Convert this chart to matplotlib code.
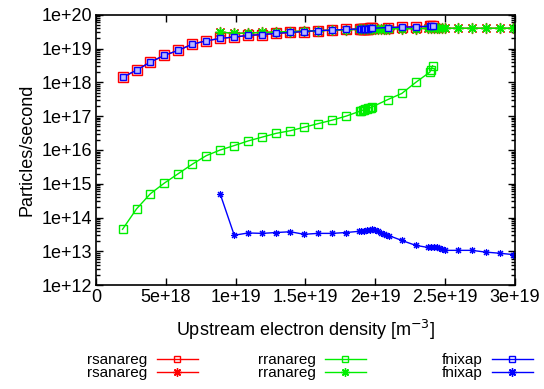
import matplotlib
matplotlib.use("Agg")
import matplotlib.pyplot as plt
from matplotlib.lines import Line2D
from matplotlib.ticker import FixedLocator, LogLocator, NullFormatter

plt.rcParams['font.family'] = ['Liberation Sans', 'DejaVu Sans']

# density scan points [m^-3] for the square-marker runs
xSquare = [1.9e18, 2.9e18, 3.9e18, 4.9e18, 5.9e18, 6.9e18, 7.9e18, 8.9e18, 9.9e18,
           10.9e18, 11.9e18, 12.9e18, 13.9e18, 14.9e18, 15.9e18, 16.9e18, 17.9e18,
           18.9e18, 19.0e18, 19.1e18, 19.2e18, 19.3e18, 19.4e18, 19.5e18, 19.6e18, 19.7e18, 19.8e18,
           20.9e18, 21.9e18, 22.9e18, 23.9e18, 24.0e18, 24.1e18]

rsanaregSq = [1.4e18, 2.3e18, 4.0e18, 6.3e18, 8.9e18, 1.35e19, 1.7e19, 2.0e19, 2.2e19,
              2.45e19, 2.6e19, 2.8e19, 3.0e19, 3.2e19, 3.4e19, 3.5e19, 3.7e19,
              3.8e19, 3.82e19, 3.84e19, 3.86e19, 3.88e19, 3.9e19, 3.92e19, 3.94e19, 3.96e19, 3.98e19,
              4.2e19, 4.3e19, 4.4e19, 4.6e19, 4.7e19, 4.8e19]

rranaregSq = [4.5e13, 1.8e14, 5.1e14, 1.05e15, 2.0e15, 3.8e15, 6.8e15, 1.0e16, 1.35e16,
              1.85e16, 2.4e16, 3.1e16, 3.7e16, 4.7e16, 6.0e16, 7.6e16, 1.0e17,
              1.4e17, 1.45e17, 1.5e17, 1.55e17, 1.6e17, 1.65e17, 1.7e17, 1.75e17, 1.8e17, 1.9e17,
              3.1e17, 4.7e17, 1.0e18, 2.0e18, 2.4e18, 3.1e18]

fnixapSq = [1.4e18, 2.3e18, 4.0e18, 6.3e18, 8.9e18, 1.35e19, 1.7e19, 2.0e19, 2.2e19,
            2.45e19, 2.6e19, 2.8e19, 3.0e19, 3.2e19, 3.4e19, 3.5e19, 3.7e19,
            3.8e19, 3.82e19, 3.84e19, 3.86e19, 3.88e19, 3.9e19, 3.92e19, 3.94e19, 3.96e19, 3.98e19,
            4.2e19, 4.3e19, 4.4e19, 4.6e19, 4.7e19, 4.8e19]

# density scan points for the star-marker runs
xStar = [8.9e18, 9.9e18, 10.9e18, 11.9e18, 12.9e18, 13.9e18, 14.9e18, 15.9e18, 16.9e18, 17.9e18,
         18.8e18, 19.0e18, 19.2e18, 19.4e18, 19.6e18, 19.8e18, 20.0e18, 20.2e18, 20.4e18, 20.6e18, 20.8e18, 21.0e18,
         21.9e18, 22.9e18,
         23.8e18, 24.0e18, 24.2e18, 24.4e18, 24.6e18, 24.8e18, 25.0e18,
         25.9e18, 26.9e18, 27.9e18, 28.9e18, 29.9e18]

rsanaregSt = [3.1e19, 2.8e19, 2.9e19, 3.0e19, 3.1e19, 3.2e19, 3.3e19, 3.4e19, 3.5e19, 3.6e19,
              3.7e19, 3.72e19, 3.74e19, 3.76e19, 3.78e19, 3.8e19, 3.82e19, 3.84e19, 3.86e19, 3.88e19, 3.9e19, 3.9e19,
              3.9e19, 3.9e19,
              4.0e19, 4.0e19, 4.0e19, 4.0e19, 4.0e19, 4.0e19, 4.0e19,
              4.0e19, 4.0e19, 4.0e19, 4.0e19, 4.0e19]

rranaregSt = [3.1e19, 2.8e19, 2.9e19, 3.0e19, 3.1e19, 3.2e19, 3.3e19, 3.4e19, 3.5e19, 3.6e19,
              3.7e19, 3.72e19, 3.74e19, 3.76e19, 3.78e19, 3.8e19, 3.82e19, 3.84e19, 3.86e19, 3.88e19, 3.9e19, 3.9e19,
              3.9e19, 3.9e19,
              4.0e19, 4.0e19, 4.0e19, 4.0e19, 4.0e19, 4.0e19, 4.0e19,
              4.0e19, 4.0e19, 4.0e19, 4.0e19, 4.0e19]

fnixapSt = [4.9e14, 3.0e13, 3.5e13, 3.4e13, 3.6e13, 3.8e13, 3.2e13, 3.4e13, 3.4e13, 3.6e13,
            3.9e13, 4.0e13, 4.1e13, 4.2e13, 4.3e13, 4.5e13, 4.3e13, 4.0e13, 3.6e13, 3.3e13, 3.1e13, 2.9e13,
            2.1e13, 1.5e13,
            1.3e13, 1.32e13, 1.33e13, 1.3e13, 1.25e13, 1.15e13, 1.07e13,
            1.07e13, 1.07e13, 9.5e12, 8.8e12, 8.0e12]

xTicks = [0, 5e18, 1e19, 1.5e19, 2e19, 2.5e19, 3e19]
xTickLabels = ["0", "5e+18", "1e+19", "1.5e+19", "2e+19", "2.5e+19", "3e+19"]
yTicks = [1e12, 1e13, 1e14, 1e15, 1e16, 1e17, 1e18, 1e19, 1e20]
yTickLabels = ["1e+12", "1e+13", "1e+14", "1e+15", "1e+16", "1e+17", "1e+18", "1e+19", "1e+20"]

red = '#ff0000'
green = '#00ee00'
blue = '#0000ff'
star = (8, 2, 0)

fig = plt.figure(figsize=(5.44, 3.89), dpi=100)
ax = fig.add_axes([0.1765, 0.267, 0.770, 0.695])

ax.plot(xSquare, rsanaregSq, '-', color=red, lw=1, marker='s', ms=6.5, mfc='#ffd0d0', mew=1.0)
ax.plot(xStar, rsanaregSt, '-', color=red, lw=1, marker=star, ms=8, mew=0.9)
ax.plot(xSquare, rranaregSq, '-', color=green, lw=1, marker='s', ms=6, mfc='none', mew=1.0)
ax.plot(xStar, rranaregSt, '-', color=green, lw=1, marker=star, ms=7, mew=1.0)
ax.plot(xSquare, fnixapSq, '-', color=blue, lw=1, marker='s', ms=4.5, mfc='#b8b8ff', mew=1.0)
ax.plot(xStar, fnixapSt, '-', color=blue, lw=1, marker=star, ms=5, mew=0.8)

ax.set_yscale('log')
ax.set_xlim(0, 3e19)
ax.set_ylim(1e12, 1e20)
ax.xaxis.set_major_locator(FixedLocator(xTicks))
ax.set_xticklabels(xTickLabels)
ax.yaxis.set_major_locator(FixedLocator(yTicks))
ax.set_yticklabels(yTickLabels)
ax.yaxis.set_minor_locator(LogLocator(base=10, subs=(2, 3, 4, 5, 6, 7, 8, 9), numticks=20))
ax.yaxis.set_minor_formatter(NullFormatter())
ax.tick_params(which='both', direction='in', top=True, right=True, labelsize=13, width=1)
ax.tick_params(which='major', length=5, pad=3)
ax.tick_params(which='minor', length=3)
for s in ax.spines.values():
    s.set_linewidth(1.2)

ax.set_xlabel("Upstream electron density [m$^{-3}$]", fontsize=13, labelpad=8)
ax.set_ylabel("Particles/second", fontsize=13, labelpad=4)

# legend: three blocks under the axes, text right of which sits the sample
legendBlocks = [("rsanareg", red, 198), ("rranareg", green, 366), ("fnixap", blue, 533)]
for name, col, xRight in legendBlocks:
    hs = [Line2D([], [], color=col, lw=1, marker='s', ms=5, mfc='none', mew=1.0),
          Line2D([], [], color=col, lw=1, marker=star, ms=6, mew=1.0)]
    fig.legend(hs, [name, name], loc='upper right', bbox_to_anchor=(xRight / 544, 1 - 353 / 389),
               markerfirst=False, frameon=False, fontsize=11, handlelength=2.7,
               handletextpad=0.6, labelspacing=-0.05, borderpad=0, borderaxespad=0)

fig.savefig("out.png", dpi=100)
